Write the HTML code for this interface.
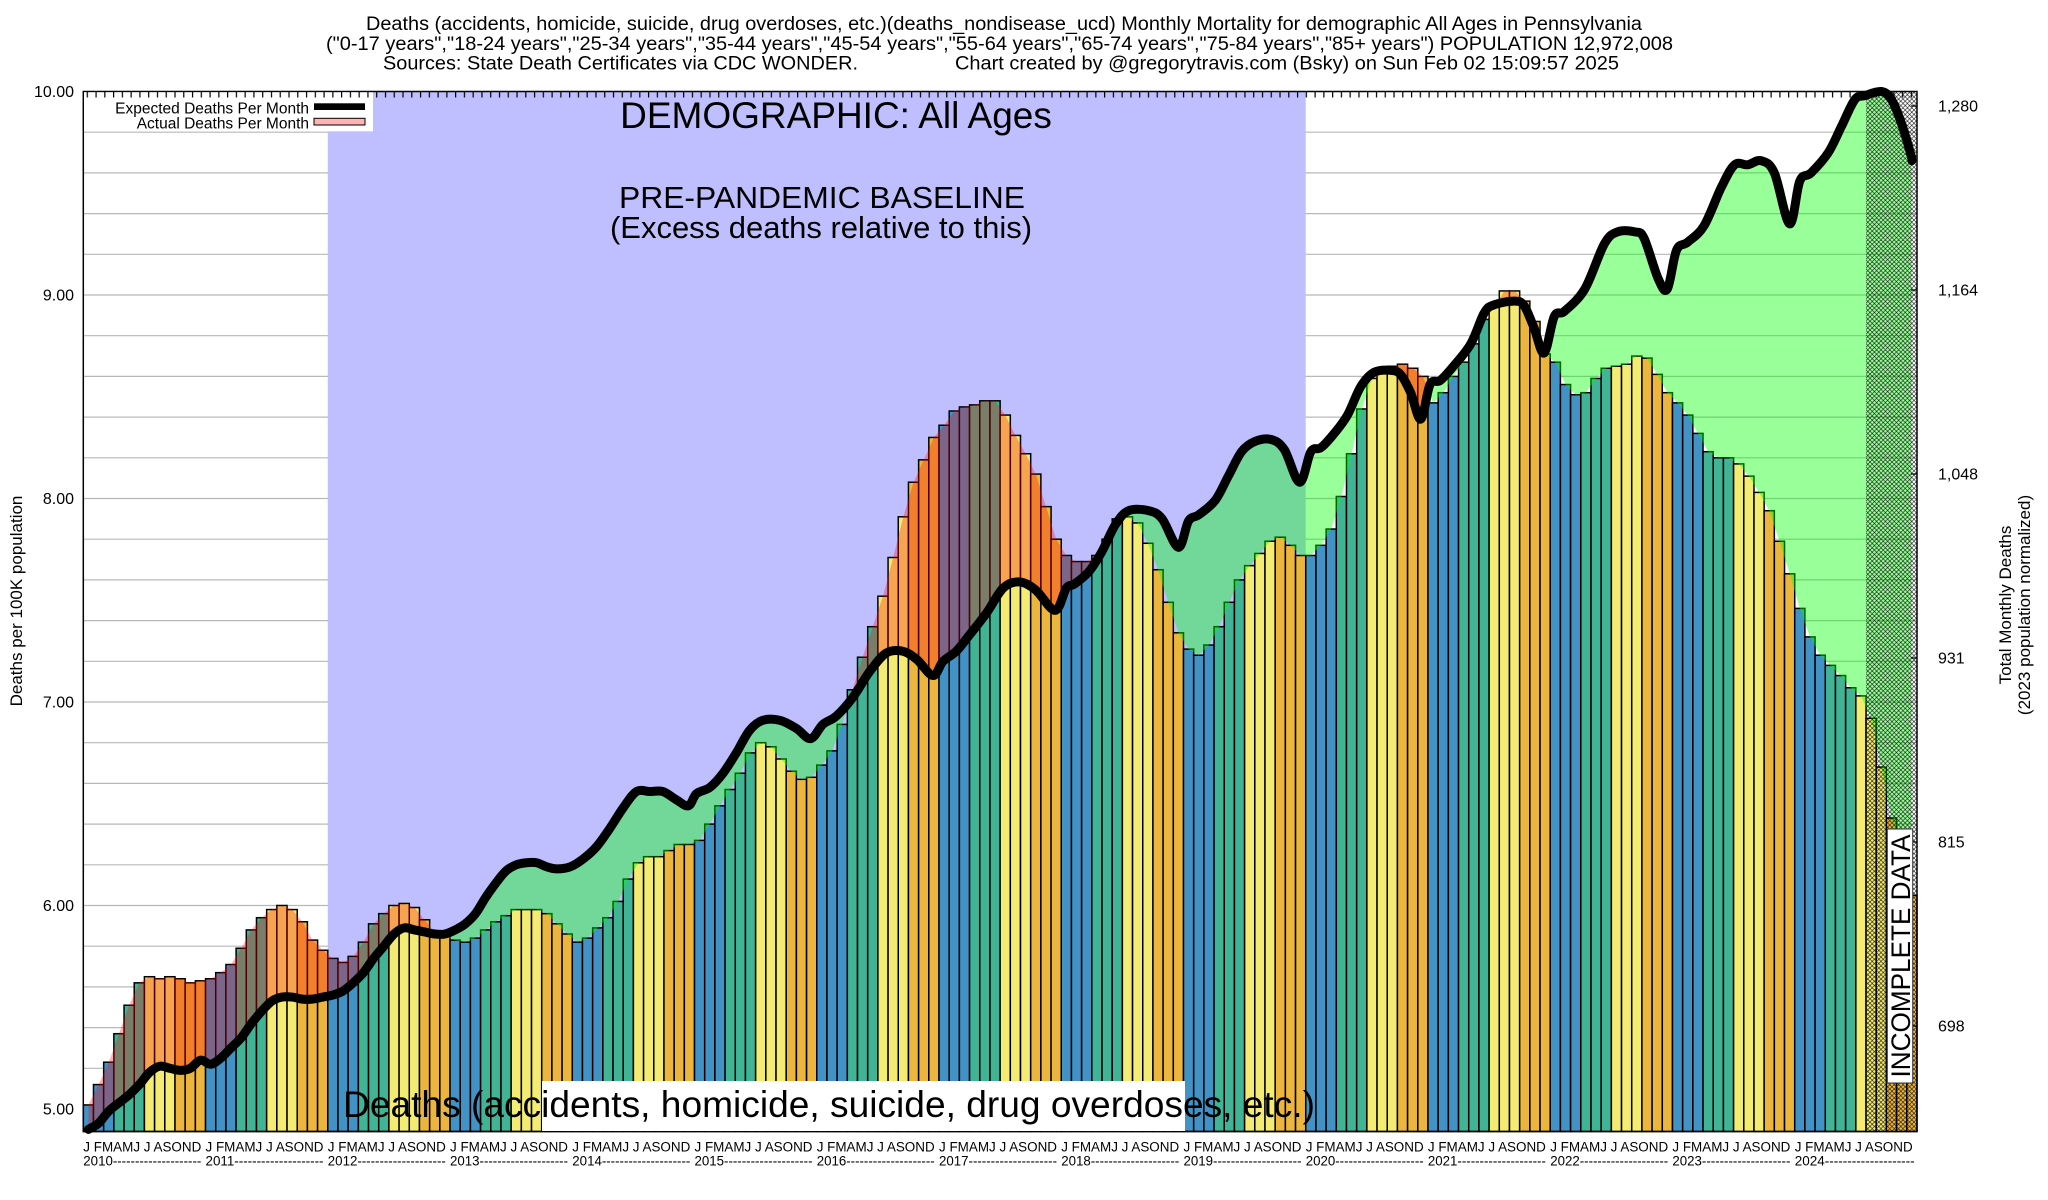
<!DOCTYPE html>
<html><head><meta charset="utf-8"><style>
html,body{margin:0;padding:0;background:#fff;overflow:hidden;}
svg{display:block;}
text{font-family:"Liberation Sans",Arial,Helvetica,sans-serif;fill:#000;}
</style></head><body>
<svg xmlns="http://www.w3.org/2000/svg" width="2048" height="1200" viewBox="0 0 2048 1200">
<defs>
<pattern id="hatch" patternUnits="userSpaceOnUse" width="4.4" height="4.4">
<path d="M-1,1 L1,-1 M0,4.4 L4.4,0 M3.4,5.4 L5.4,3.4 M-1,3.4 L1,5.4 M0,0 L4.4,4.4 M3.4,-1 L5.4,1" stroke="#000" stroke-width="0.55" fill="none"/>
</pattern>
<pattern id="tk" patternUnits="userSpaceOnUse" x="86.7" y="91.5" width="8.77" height="6"><rect x="0" y="0" width="1.2" height="6" fill="#000"/></pattern>
</defs>
<rect width="2048" height="1200" fill="#fff"/>
<path stroke="#b8b8b8" stroke-width="1.2" fill="none" d="M83.3,1109H1917M83.3,1068.3H1917M83.3,1027.6H1917M83.3,986.9H1917M83.3,946.2H1917M83.3,905.5H1917M83.3,864.8H1917M83.3,824.1H1917M83.3,783.4H1917M83.3,742.7H1917M83.3,702H1917M83.3,661.3H1917M83.3,620.6H1917M83.3,579.9H1917M83.3,539.2H1917M83.3,498.5H1917M83.3,457.8H1917M83.3,417.1H1917M83.3,376.4H1917M83.3,335.7H1917M83.3,295H1917M83.3,254.3H1917M83.3,213.6H1917M83.3,172.9H1917M83.3,132.2H1917"/>
<rect x="327.8" y="91.5" width="977.9" height="1040" fill="#bfbfff"/>
<g id="dyn"></g>

<!-- frame -->
<rect x="83.3" y="91.5" width="1833.7" height="1040" fill="none" stroke="#000" stroke-width="1.5"/>

<!-- legend -->
<rect x="84" y="92.3" width="289" height="39" fill="#fff"/>
<text x="309" y="113.3" font-size="15.5" text-anchor="end">Expected Deaths Per Month</text>
<text x="309" y="128.3" font-size="15.5" text-anchor="end">Actual Deaths Per Month</text>
<rect x="314" y="103.3" width="51" height="6.7" fill="#000"/>
<rect x="314" y="118.3" width="51" height="6.7" fill="#ffb4b4" stroke="#000" stroke-width="1"/>
<rect x="83.3" y="91.5" width="1833.7" height="6" fill="url(#tk)"/>

<!-- right ticks -->
<path stroke="#000" stroke-width="1.2" d="M1911,106H1917M1911,290H1917M1911,474H1917M1911,658H1917M1911,842H1917M1911,1026H1917"/>

<!-- big labels -->
<text x="836" y="128" font-size="37" text-anchor="middle">DEMOGRAPHIC: All Ages</text>
<text x="822" y="208" font-size="31" text-anchor="middle" textLength="406" lengthAdjust="spacingAndGlyphs">PRE-PANDEMIC BASELINE</text>
<text x="821" y="238" font-size="31" text-anchor="middle">(Excess deaths relative to this)</text>

<rect x="542" y="1081" width="643" height="50" fill="#fff"/>
<text x="343" y="1117" font-size="37" textLength="972" lengthAdjust="spacingAndGlyphs">Deaths (accidents, homicide, suicide, drug overdoses, etc.)</text>

<rect x="1887.3" y="829" width="25.4" height="254" fill="#fff" stroke="#333" stroke-width="1"/>
<text transform="translate(1910,956) rotate(-90)" font-size="27" text-anchor="middle" textLength="243" lengthAdjust="spacingAndGlyphs">INCOMPLETE DATA</text>

<!-- title -->
<text x="366" y="30" font-size="19" textLength="1276" lengthAdjust="spacingAndGlyphs">Deaths (accidents, homicide, suicide, drug overdoses, etc.)(deaths_nondisease_ucd) Monthly Mortality for demographic All Ages in Pennsylvania</text>
<text x="326" y="50" font-size="19" textLength="1347" lengthAdjust="spacingAndGlyphs">("0-17 years","18-24 years","25-34 years","35-44 years","45-54 years","55-64 years","65-74 years","75-84 years","85+ years") POPULATION 12,972,008</text>
<text x="383" y="69.5" font-size="19" textLength="475" lengthAdjust="spacingAndGlyphs">Sources: State Death Certificates via CDC WONDER.</text>
<text x="955" y="69.5" font-size="19" textLength="664" lengthAdjust="spacingAndGlyphs">Chart created by @gregorytravis.com (Bsky) on Sun Feb 02 15:09:57 2025</text>

<!-- left axis labels -->
<g font-size="16" text-anchor="end">
<text x="74" y="97">10.00</text>
<text x="74" y="300.5">9.00</text>
<text x="74" y="504">8.00</text>
<text x="74" y="707.5">7.00</text>
<text x="74" y="911">6.00</text>
<text x="74" y="1114.5">5.00</text>
</g>
<text transform="translate(22,601) rotate(-90)" font-size="17" text-anchor="middle">Deaths per 100K population</text>

<!-- right axis labels -->
<g font-size="16">
<text x="1938" y="111.5">1,280</text>
<text x="1938" y="295.5">1,164</text>
<text x="1938" y="479.5">1,048</text>
<text x="1938" y="663.5">931</text>
<text x="1938" y="847.5">815</text>
<text x="1938" y="1031.5">698</text>
</g>
<text transform="translate(2011,605) rotate(-90)" font-size="17" text-anchor="middle">Total Monthly Deaths</text>
<text transform="translate(2030,605) rotate(-90)" font-size="17" text-anchor="middle">(2023 population normalized)</text>

<!-- x axis month labels -->
<g font-size="13.5">
<text x="83.3" y="1151.5" textLength="118" lengthAdjust="spacingAndGlyphs">J FMAMJ J ASOND</text>
<text x="205.5" y="1151.5" textLength="118" lengthAdjust="spacingAndGlyphs">J FMAMJ J ASOND</text>
<text x="327.8" y="1151.5" textLength="118" lengthAdjust="spacingAndGlyphs">J FMAMJ J ASOND</text>
<text x="450.0" y="1151.5" textLength="118" lengthAdjust="spacingAndGlyphs">J FMAMJ J ASOND</text>
<text x="572.3" y="1151.5" textLength="118" lengthAdjust="spacingAndGlyphs">J FMAMJ J ASOND</text>
<text x="694.5" y="1151.5" textLength="118" lengthAdjust="spacingAndGlyphs">J FMAMJ J ASOND</text>
<text x="816.7" y="1151.5" textLength="118" lengthAdjust="spacingAndGlyphs">J FMAMJ J ASOND</text>
<text x="939.0" y="1151.5" textLength="118" lengthAdjust="spacingAndGlyphs">J FMAMJ J ASOND</text>
<text x="1061.2" y="1151.5" textLength="118" lengthAdjust="spacingAndGlyphs">J FMAMJ J ASOND</text>
<text x="1183.5" y="1151.5" textLength="118" lengthAdjust="spacingAndGlyphs">J FMAMJ J ASOND</text>
<text x="1305.7" y="1151.5" textLength="118" lengthAdjust="spacingAndGlyphs">J FMAMJ J ASOND</text>
<text x="1427.9" y="1151.5" textLength="118" lengthAdjust="spacingAndGlyphs">J FMAMJ J ASOND</text>
<text x="1550.2" y="1151.5" textLength="118" lengthAdjust="spacingAndGlyphs">J FMAMJ J ASOND</text>
<text x="1672.4" y="1151.5" textLength="118" lengthAdjust="spacingAndGlyphs">J FMAMJ J ASOND</text>
<text x="1794.7" y="1151.5" textLength="118" lengthAdjust="spacingAndGlyphs">J FMAMJ J ASOND</text>
</g>
<g font-size="13.5">
<text x="83.3" y="1165.5" textLength="118" lengthAdjust="spacingAndGlyphs">2010--------------------</text>
<text x="205.5" y="1165.5" textLength="118" lengthAdjust="spacingAndGlyphs">2011--------------------</text>
<text x="327.8" y="1165.5" textLength="118" lengthAdjust="spacingAndGlyphs">2012--------------------</text>
<text x="450.0" y="1165.5" textLength="118" lengthAdjust="spacingAndGlyphs">2013--------------------</text>
<text x="572.3" y="1165.5" textLength="118" lengthAdjust="spacingAndGlyphs">2014--------------------</text>
<text x="694.5" y="1165.5" textLength="118" lengthAdjust="spacingAndGlyphs">2015--------------------</text>
<text x="816.7" y="1165.5" textLength="118" lengthAdjust="spacingAndGlyphs">2016--------------------</text>
<text x="939.0" y="1165.5" textLength="118" lengthAdjust="spacingAndGlyphs">2017--------------------</text>
<text x="1061.2" y="1165.5" textLength="118" lengthAdjust="spacingAndGlyphs">2018--------------------</text>
<text x="1183.5" y="1165.5" textLength="118" lengthAdjust="spacingAndGlyphs">2019--------------------</text>
<text x="1305.7" y="1165.5" textLength="118" lengthAdjust="spacingAndGlyphs">2020--------------------</text>
<text x="1427.9" y="1165.5" textLength="118" lengthAdjust="spacingAndGlyphs">2021--------------------</text>
<text x="1550.2" y="1165.5" textLength="118" lengthAdjust="spacingAndGlyphs">2022--------------------</text>
<text x="1672.4" y="1165.5" textLength="118" lengthAdjust="spacingAndGlyphs">2023--------------------</text>
<text x="1794.7" y="1165.5" textLength="120" lengthAdjust="spacingAndGlyphs">2024--------------------</text>
</g>
</svg>
<script>
(function(){
var X0=83.3,W=10.187,YB=1131.5,YT=91.5;
function Y(v){return 1109-(v-5)*203.5;}
var A=[
5.02,5.12,5.23,5.37,5.51,5.62,5.65,5.64,5.65,5.64,5.62,5.63,
5.64,5.67,5.71,5.79,5.88,5.94,5.98,6.00,5.98,5.92,5.83,5.78,
5.74,5.72,5.75,5.82,5.91,5.96,6.00,6.01,5.99,5.93,5.87,5.85,
5.83,5.82,5.84,5.88,5.92,5.95,5.98,5.98,5.98,5.96,5.91,5.86,
5.82,5.84,5.89,5.94,6.02,6.13,6.21,6.24,6.24,6.27,6.30,6.30,
6.32,6.40,6.49,6.57,6.65,6.75,6.80,6.78,6.72,6.66,6.62,6.63,
6.69,6.76,6.89,7.06,7.22,7.37,7.52,7.71,7.91,8.08,8.19,8.30,
8.36,8.43,8.45,8.46,8.48,8.48,8.41,8.31,8.22,8.12,7.96,7.80,
7.72,7.69,7.69,7.72,7.80,7.90,7.91,7.88,7.78,7.65,7.49,7.34,
7.26,7.23,7.28,7.37,7.49,7.60,7.67,7.73,7.79,7.81,7.77,7.72,
7.72,7.77,7.85,8.01,8.22,8.44,8.59,8.64,8.65,8.66,8.64,8.60,
8.47,8.52,8.60,8.67,8.76,8.88,8.94,9.02,9.02,8.97,8.87,8.71,
8.67,8.56,8.51,8.52,8.59,8.64,8.65,8.66,8.70,8.69,8.61,8.52,
8.47,8.41,8.32,8.23,8.20,8.20,8.17,8.11,8.03,7.94,7.79,7.63,
7.46,7.32,7.23,7.18,7.13,7.07,7.03,6.92,6.68,6.43,6.25,6.05];
var E=[[0,4.90],[1,4.93],[2,4.99],[3,5.03],[4,5.07],[5,5.12],[6,5.18],[7,5.21],[8,5.20],[9,5.19],[10,5.20],[11,5.24],[12,5.22],[13,5.25],[14,5.30],[15,5.35],[16,5.42],[17,5.48],[18,5.53],[19,5.55],[20,5.55],[21,5.54],[22,5.54],[23,5.55],[24,5.56],[25,5.58],[26,5.62],[27,5.67],[28,5.74],[29,5.80],[30,5.86],[31,5.89],[32,5.88],[33,5.87],[34,5.86],[35,5.86],[36,5.88],[37,5.91],[38,5.96],[39,6.04],[40,6.11],[41,6.17],[42,6.20],[43,6.21],[44,6.21],[45,6.19],[46,6.18],[47.3,6.19],[48.6,6.23],[49.9,6.29],[51.2,6.38],[52.5,6.48],[53.8,6.56],[55.1,6.56],[56.4,6.56],[57.7,6.52],[58.9,6.49],[59.7,6.55],[61,6.58],[62.3,6.65],[63.6,6.75],[64.9,6.86],[66.2,6.91],[67.9,6.91],[69.5,6.87],[70.9,6.82],[72.1,6.89],[73.4,6.93],[75,7.02],[76.7,7.15],[78.3,7.24],[79.9,7.25],[81.3,7.21],[82.9,7.13],[83.9,7.20],[85.2,7.25],[86.5,7.33],[88.2,7.44],[89.8,7.56],[91.4,7.59],[93,7.55],[94.9,7.45],[96,7.56],[96.8,7.58],[98.2,7.64],[99.5,7.74],[100.8,7.87],[102.1,7.94],[104.1,7.94],[105.4,7.90],[107,7.76],[108,7.89],[109,7.92],[110.6,7.99],[111.9,8.11],[113.2,8.23],[114.5,8.28],[116.1,8.29],[117.4,8.24],[118.9,8.08],[120,8.23],[121,8.25],[122.3,8.32],[123.6,8.41],[124.9,8.55],[126.2,8.62],[127.8,8.63],[128.8,8.61],[129.8,8.52],[130.8,8.39],[131.7,8.56],[132.7,8.58],[134,8.65],[135.7,8.76],[137,8.91],[137.9,8.95],[139.9,8.97],[140.9,8.95],[141.9,8.84],[142.9,8.715],[143.9,8.895],[144.9,8.92],[146.9,9.03],[148.8,9.25],[150.1,9.31],[151.8,9.31],[152.7,9.28],[154.1,9.08],[155,9.03],[155.9,9.22],[157,9.26],[158.6,9.34],[160.3,9.53],[161.6,9.64],[162.9,9.64],[164.2,9.66],[165.5,9.60],[167,9.35],[168,9.56],[169.1,9.60],[170.8,9.70],[172.1,9.83],[173.4,9.96],[174.4,9.98],[176,10.0],[177,9.96],[178,9.84],[178.9,9.69],[179,9.66]];
var cols=['#4292c6','#41b496','#f4eb73','#ecb63e'];
var s='<g stroke="#000" stroke-width="1.5">';
for(var i=0;i<180;i++){var y=Y(A[i]);var q=Math.floor((i%12)/3);
s+='<rect x="'+(X0+i*W).toFixed(2)+'" y="'+y.toFixed(2)+'" width="'+W.toFixed(3)+'" height="'+(YB-y).toFixed(2)+'" fill="'+cols[q]+'"/>';}
s+='</g>';
var ap=A.map(function(v,i){return [X0+(i+0.5)*W,Y(v)];});
var ep=E.map(function(p){return [X0+(p[0]+0.5)*W,Y(p[1])];});
function f(p){return p[0].toFixed(2)+','+p[1].toFixed(2);}
function L(a){return a.map(f).join(' L');}
function C(a){var d='',n=a.length;for(var i=0;i<n-1;i++){var p0=a[Math.max(i-1,0)],p1=a[i],p2=a[i+1],p3=a[Math.min(i+2,n-1)];
var c1=[p1[0]+(p2[0]-p0[0])/6,p1[1]+(p2[1]-p0[1])/6],c2=[p2[0]-(p3[0]-p1[0])/6,p2[1]-(p3[1]-p1[1])/6];
d+=' C'+f(c1)+' '+f(c2)+' '+f(p2);}return d;}
var xs=ap[0][0].toFixed(2),xe=ap[179][0].toFixed(2);
var ec=f(ep[0])+C(ep);
s+='<defs><clipPath id="cAbove"><path d="M'+xs+',60 L'+ec+' L'+xe+',60 Z"/></clipPath>'+
'<clipPath id="cBelow"><path d="M'+xs+',1160 L'+ec+' L'+xe+',1160 Z"/></clipPath></defs>';
s+='<g clip-path="url(#cAbove)"><path d="M'+xs+','+YB+' L'+L(ap)+' L'+xe+','+YB+' Z" fill="rgba(255,0,0,0.3)"/></g>';
s+='<g clip-path="url(#cBelow)"><path d="M'+xs+','+YT+' L'+L(ap)+' L'+xe+','+YT+' Z" fill="rgba(0,255,0,0.4)"/></g>';
var hx=X0+175*W;
s+='<rect x="'+hx.toFixed(2)+'" y="'+YT+'" width="'+(1917-hx).toFixed(2)+'" height="'+(YB-YT)+'" fill="url(#hatch)"/>';
s+='<path d="M'+ec+'" fill="none" stroke="#000" stroke-width="9" stroke-linejoin="round" stroke-linecap="round"/>';
document.getElementById('dyn').innerHTML=s;
})();
</script>
</body></html>
